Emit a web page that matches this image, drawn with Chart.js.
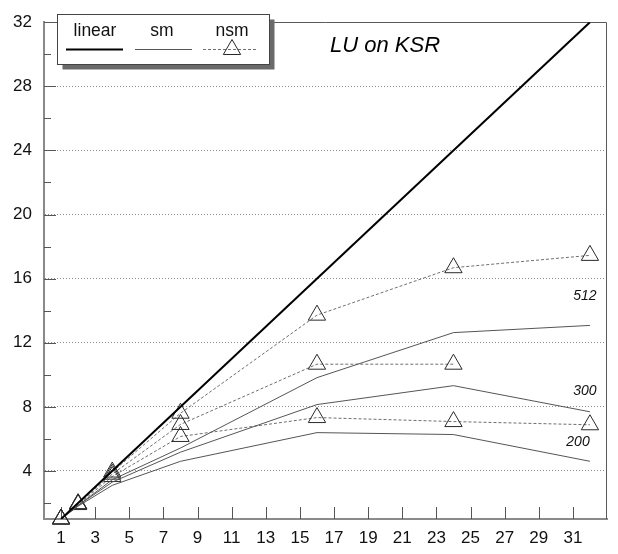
<!DOCTYPE html>
<html>
<head>
<meta charset="utf-8">
<script src="https://cdn.jsdelivr.net/npm/chart.js@4/dist/chart.umd.min.js"></script>
<style>
  html, body { margin: 0; padding: 0; background: #fff; }
  #wrap { width: 618px; height: 554px; position: relative; }
</style>
</head>
<body>
<div id="wrap"><canvas id="c" width="618" height="554"></canvas></div>
<script>
// Processor counts at which speedup was measured
const procs = [1, 2, 4, 8, 16, 24, 32];

// Ideal (linear) speedup
const linearX = [1, 32];
const linearY = [1, 32];

// Speedup, "sm" variant, by matrix size
const sm512 = [1, 1.85, 3.45, 5.43, 9.82, 12.63, 13.08];
const sm300 = [1, 1.85, 3.3, 5.17, 8.14, 9.32, 7.69];
const sm200 = [1, 1.8, 3.1, 4.6, 6.39, 6.27, 4.6];

// Speedup, "nsm" variant, by matrix size (no 32-processor run for 300)
const nsm512 = [1, 1.95, 3.93, 7.6, 13.72, 16.68, 17.45];
const nsm300 = [1, 1.95, 3.8, 6.9, 10.66, 10.66, null];
const nsm200 = [1, 1.9, 3.65, 6.15, 7.33, 7.08, 6.88];

// Axis ticks
const xTickValues = [1, 3, 5, 7, 9, 11, 13, 15, 17, 19, 21, 23, 25, 27, 29, 31];
const yTickValues = [2, 4, 6, 8, 10, 12, 14, 16, 18, 20, 22, 24, 26, 28, 30, 32];
const yLabelValues = [4, 8, 12, 16, 20, 24, 28, 32];

// Text
const chartTitle = 'LU on KSR';
const seriesNames = ['linear', 'sm', 'nsm'];
const sizeLabels = ['512', '300', '200'];

const FONT = '"Liberation Sans", Arial, Helvetica, sans-serif';

// Where the matrix-size labels sit, in data units
const sizeLabelAnchors = [
  { x: 31.7, y: 14.88 },
  { x: 31.7, y: 9.0 },
  { x: 31.3, y: 5.82 }
];

function toPoints(xs, ys) {
  return xs.map((x, i) => ({ x: x, y: ys[i] })).filter(p => p.y !== null && p.y !== undefined);
}

const TRI_R = 10;

const smStyle = {
  borderColor: '#555555', borderWidth: 1, pointRadius: 0, pointHoverRadius: 0,
  fill: false, tension: 0
};
const nsmStyle = {
  borderColor: '#6e6e6e', borderWidth: 1, borderDash: [3, 2],
  pointStyle: 'triangle', pointRadius: TRI_R, pointHoverRadius: TRI_R,
  pointBorderColor: '#2a2a2a', pointBorderWidth: 1,
  pointBackgroundColor: 'rgba(0,0,0,0)', fill: false, tension: 0, clip: false
};

const datasets = [
  { label: 'linear', data: toPoints(linearX, linearY), borderColor: '#000', borderWidth: 2,
    pointRadius: 0, pointHoverRadius: 0, fill: false, tension: 0 },
  Object.assign({ label: 'sm 512', data: toPoints(procs, sm512) }, smStyle),
  Object.assign({ label: 'sm 300', data: toPoints(procs, sm300) }, smStyle),
  Object.assign({ label: 'sm 200', data: toPoints(procs, sm200) }, smStyle),
  Object.assign({ label: 'nsm 512', data: toPoints(procs, nsm512) }, nsmStyle),
  Object.assign({ label: 'nsm 300', data: toPoints(procs, nsm300) }, nsmStyle),
  Object.assign({ label: 'nsm 200', data: toPoints(procs, nsm200) }, nsmStyle)
];

function triangle(ctx, cx, cy, r) {
  const a = Math.PI * 2 / 3;
  ctx.beginPath();
  for (let k = 0; k < 3; k++) {
    const ang = k * a;
    const px = cx + Math.sin(ang) * r;
    const py = cy - Math.cos(ang) * r;
    if (k === 0) ctx.moveTo(px, py); else ctx.lineTo(px, py);
  }
  ctx.closePath();
  ctx.stroke();
}

// Inward tick marks plus the top/right frame
const framePlugin = {
  id: 'frame',
  beforeDatasetsDraw(chart) {
    const { ctx, chartArea: a, scales: { x, y } } = chart;
    ctx.save();
    ctx.strokeStyle = '#5a5a5a';
    ctx.lineWidth = 1;
    ctx.beginPath();
    ctx.moveTo(a.left, Math.round(a.top) + 0.5);
    ctx.lineTo(Math.round(a.right) - 0.5, Math.round(a.top) + 0.5);
    ctx.lineTo(Math.round(a.right) - 0.5, a.bottom);
    ctx.stroke();
    ctx.strokeStyle = '#555';
    ctx.beginPath();
    yTickValues.forEach(v => {
      if (v >= y.max) return;
      const py = Math.round(y.getPixelForValue(v)) + 0.5;
      const len = yLabelValues.includes(v) ? 12 : 7;
      ctx.moveTo(a.left, py);
      ctx.lineTo(a.left + len, py);
    });
    xTickValues.forEach(v => {
      const px = Math.round(x.getPixelForValue(v)) + 0.5;
      ctx.moveTo(px, a.bottom);
      ctx.lineTo(px, a.bottom - 12);
    });
    ctx.stroke();
    ctx.restore();
  }
};

// Legend box, title and matrix-size labels
const decorPlugin = {
  id: 'decor',
  afterDraw(chart) {
    const { ctx, chartArea: a, scales: { x, y } } = chart;
    ctx.save();

    // legend box with drop shadow
    const bx = 57.5, by = 14.5, bw = 212, bh = 50;
    ctx.fillStyle = '#6a6a6a';
    ctx.fillRect(bx + 5, by + 5, bw, bh);
    ctx.fillStyle = '#fff';
    ctx.fillRect(bx, by, bw, bh);
    ctx.strokeStyle = '#444';
    ctx.lineWidth = 1;
    ctx.strokeRect(bx, by, bw, bh);

    ctx.fillStyle = '#111';
    ctx.font = '17.5px ' + FONT;
    ctx.textAlign = 'center';
    ctx.textBaseline = 'middle';
    const centers = [95, 162, 232];
    seriesNames.forEach((n, i) => ctx.fillText(n, centers[i], 31));

    const ly = 49.5;
    ctx.strokeStyle = '#000';
    ctx.lineWidth = 2;
    ctx.beginPath(); ctx.moveTo(66, ly); ctx.lineTo(123, ly); ctx.stroke();
    ctx.strokeStyle = '#555';
    ctx.lineWidth = 1;
    ctx.beginPath(); ctx.moveTo(135, ly); ctx.lineTo(192, ly); ctx.stroke();
    ctx.strokeStyle = '#6e6e6e';
    ctx.setLineDash([3, 2]);
    ctx.beginPath(); ctx.moveTo(203, ly); ctx.lineTo(258, ly); ctx.stroke();
    ctx.setLineDash([]);
    ctx.strokeStyle = '#2a2a2a';
    triangle(ctx, 232, ly, TRI_R);

    // title
    ctx.fillStyle = '#000';
    ctx.font = 'italic 22px ' + FONT;
    ctx.textAlign = 'center';
    ctx.fillText(chartTitle, 385, 46);

    // matrix-size labels
    ctx.font = 'italic 14px ' + FONT;
    ctx.fillStyle = '#111';
    sizeLabels.forEach((t, i) => {
      const p = sizeLabelAnchors[i];
      ctx.fillText(t, x.getPixelForValue(p.x), y.getPixelForValue(p.y));
    });
    ctx.restore();
  }
};

new Chart(document.getElementById('c'), {
  type: 'line',
  data: { datasets: datasets },
  options: {
    responsive: false,
    animation: false,
    devicePixelRatio: 1,
    layout: { padding: { top: 10, right: 2, bottom: 0, left: 0 } },
    plugins: { legend: { display: false }, tooltip: { enabled: false } },
    scales: {
      x: {
        type: 'linear', position: 'bottom', min: 0, max: 33,
        afterBuildTicks: s => { s.ticks = xTickValues.map(v => ({ value: v })); },
        afterFit: s => { s.height = 35; },
        grid: { display: false, drawTicks: false },
        border: { display: true, color: '#8a8a8a', width: 2 },
        ticks: {
          autoSkip: false, maxRotation: 0, padding: 9, color: '#111',
          font: { family: FONT, size: 17 },
          callback: v => String(v)
        }
      },
      y: {
        type: 'linear', position: 'left', min: 1, max: 32,
        afterBuildTicks: s => { s.ticks = yTickValues.map(v => ({ value: v })); },
        afterFit: s => { s.width = 44; },
        grid: {
          drawTicks: false,
          lineWidth: 1,
          color: c => (c.tick && yLabelValues.includes(c.tick.value) && c.tick.value < 32) ? '#8c8c8c' : 'rgba(0,0,0,0)'
        },
        border: { display: true, color: '#8a8a8a', width: 2, dash: [1, 2] },
        ticks: {
          autoSkip: false, padding: 12, color: '#111',
          font: { family: FONT, size: 17 },
          callback: v => yLabelValues.includes(v) ? String(v) : ''
        }
      }
    }
  },
  plugins: [framePlugin, decorPlugin]
});
</script>
</body>
</html>
